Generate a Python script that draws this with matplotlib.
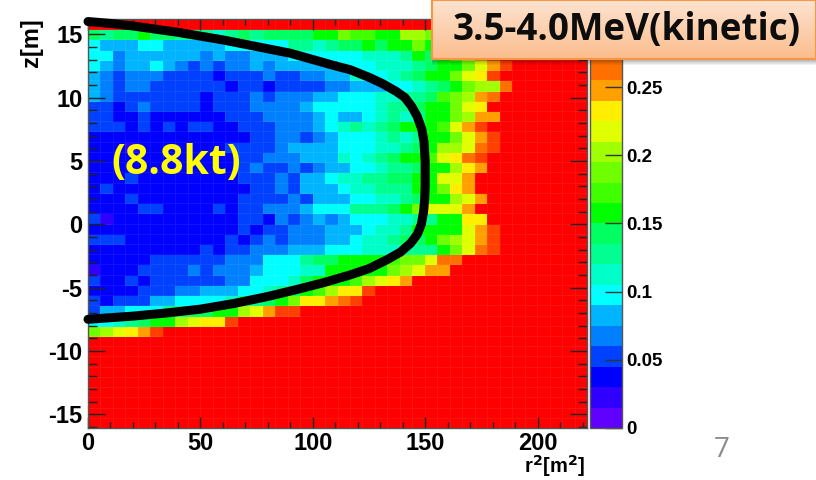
# fiducial volume map, r^2 vs z, with the 8.8kt curve on top
import numpy as np
import matplotlib
matplotlib.use("Agg")
import matplotlib.pyplot as plt
from matplotlib.colors import ListedColormap, BoundaryNorm

W, H = 816, 480

# palette levels, bottom to top of the colour bar
palette = ["#6000ff", "#3000ff", "#0000ff", "#0040ff", "#0080ff",
           "#00b4ff", "#00ffff", "#00ffc8", "#00ff90", "#00ff60",
           "#00ff00", "#40ff00", "#70ff00", "#a0ff00", "#e0ff00",
           "#ffee00", "#ffa000", "#ff7000", "#ff4000", "#ff0000"]

# one char per bin (base 20 palette level), top row first, missing bins at the right are red
rows = [
    "",
    "9899a9988878989999aacbbaaddcdefgi",
    "6555665555566666887899a9aacadeghi",
    "66455555545445556666667778a9acegi",
    "6545565434344545555566677789aacegi",
    "543444333323334334455766789aacefi",
    "54344333333233233334455566789acddh",
    "5433333332333434445566677889bcdgh",
    "332343333233344445666667889aacef",
    "332232222223334444565567878aacdgg",
    "3332323233223334445678789aaabegi",
    "222222222222233443456667878aacegi",
    "222122222223333455556667789addehi",
    "2222222222223344455576789aabefhi",
    "222222222222343343455667889aadfg",
    "22232222222233343556778899aaeeg",
    "23222222222223343555677888aacfg",
    "222322222222333343555667789aadeg",
    "2222332222323344456668889aceeeg",
    "3122222222223324345456667788aaff",
    "22222222222232334445556778aaaaegi",
    "333222222223234344455677899acdegi",
    "2222222223233444555666777888acehi",
    "22222333333444666899aaaabccehh",
    "1222333343444566677aaaaacdegg",
    "3223233333344666 79aaabdefg".replace(" ", ""),
    "22223334455566789abdffi",
    "323335566667889acffghi",
    "3556668899aadegii",
    "66789aadeffi",
    "cdefgi",
    "", "", "", "", "", "", "", "", "",
]

# curve
curve_r2 = [0, 10, 20, 30, 40, 50, 60, 70, 80, 90, 100, 110, 116.6, 125, 131, 137, 141, 144, 146.5, 148.5, 149.5, 150,
            150, 149.8, 149.3, 148.3, 146.5, 143.5, 139, 133, 125, 116.6, 105, 94, 80, 65, 50, 35, 20, 0]
curve_z = [16, 15.85, 15.65, 15.4, 15.15, 14.85, 14.55, 14.2, 13.85, 13.5, 13, 12.5, 12.2, 11.6, 11.1, 10.5, 10, 9.3, 8.5, 7.5, 6.5, 5,
           3, 2, 1, 0, -0.8, -1.5, -2.2, -2.8, -3.5, -4, -4.6, -5.1, -5.7, -6.25, -6.7, -7, -7.25, -7.5]

xticks = [0, 50, 100, 150, 200]
yticks = [-15, -10, -5, 0, 5, 10, 15]
cticks = [0, 0.05, 0.1, 0.15, 0.2, 0.25]
clabels = ["0", "0.05", "0.1", "0.15", "0.2", "0.25"]


def rect(x0, y0, x1, y1):
    # pixel box (y from the top) to figure fractions
    return [x0 / W, 1 - y1 / H, (x1 - x0) / W, (y1 - y0) / H]


levels = np.array([[int(ch, 20) for ch in r.ljust(40, "j")[:40]] for r in rows])
values = (levels[::-1] + 0.5) * 0.015

cmap = ListedColormap(palette)
norm = BoundaryNorm(np.arange(21) * 0.015, 20)

plt.rcParams["font.family"] = ["Liberation Sans", "DejaVu Sans"]
plt.rcParams["axes.unicode_minus"] = False
fig = plt.figure(figsize=(W / 100, H / 100), dpi=100, facecolor="white")

ax = fig.add_axes(rect(88, 19, 587, 428))
xe = np.linspace(0, 222, 41)
ye = np.linspace(-16.08, 16.2, 41)
ax.pcolormesh(xe, ye, values, cmap=cmap, norm=norm, edgecolors=(1, 1, 1, 0.07), linewidth=0.6)
ax.plot(curve_r2, curve_z, color="black", lw=6.5, solid_capstyle="round", solid_joinstyle="round", clip_on=False, zorder=5)
ax.set_xlim(0, 222)
ax.set_ylim(-16.08, 16.2)
ax.set_xticks(xticks)
ax.set_yticks(yticks)
ax.set_xticks(np.arange(0, 221, 10), minor=True)
ax.set_yticks(np.arange(-16, 17, 1), minor=True)
ax.tick_params(axis="x", which="major", direction="in", top=True, length=8, width=1, color="#222222", pad=3)
ax.tick_params(axis="x", which="minor", direction="in", top=True, length=4, width=1, color="#222222")
ax.tick_params(axis="y", which="major", direction="in", right=True, length=12.5, width=1, color="#222222", pad=4)
ax.tick_params(axis="y", which="minor", direction="in", right=True, length=6.5, width=1, color="#222222")
for lab in ax.get_xticklabels() + ax.get_yticklabels():
    lab.set_fontsize(17)
    lab.set_fontweight("bold")
for s in ax.spines.values():
    s.set_color("#555555")
    s.set_linewidth(1)

# colour bar
cax = fig.add_axes(rect(590, 19, 622, 428))
cb = fig.colorbar(plt.cm.ScalarMappable(norm=norm, cmap=cmap), cax=cax, ticks=cticks, spacing="proportional")
cb.minorticks_off()
cb.set_ticklabels(clabels)
cax.tick_params(axis="y", direction="in", length=12, width=1, color="#333333", pad=3, labelsize=13.5)
for lab in cax.get_yticklabels():
    lab.set_fontweight("bold")
cb.outline.set_edgecolor("#555555")
cb.outline.set_linewidth(1)

# axis titles
fig.text(555 / W, 1 - 466.5 / H, "r$\\mathbf{^2}$[m$\\mathbf{^2}$]", fontsize=14.5, fontweight="bold", ha="center", va="center",
         math_fontfamily="dejavusans")
fig.text(32 / W, 1 - 43 / H, "z[m]", fontsize=17, fontweight="bold", rotation=90, ha="center", va="center")

fig.text(176 / W, 1 - 163 / H, "(8.8kt)", fontsize=29.5, fontweight="bold", color="#ffff00", ha="center", va="center",
         family="Open Sans", zorder=10)
fig.text(722 / W, 1 - 450 / H, "7", fontsize=20, color="#8c8c8c", ha="center", va="center", family="Open Sans")

# shadow under the title box
sh = fig.add_axes(rect(432, 59, 816, 66), zorder=8)
shade = np.zeros((7, 1, 4))
shade[:, 0, 3] = np.linspace(0.32, 0.0, 7)
sh.imshow(shade, aspect="auto")
sh.axis("off")

# title box with its gradient
bx = fig.add_axes(rect(432, 0, 816, 59), zorder=9)
top = np.array(matplotlib.colors.to_rgb("#fde3d0"))
bot = np.array(matplotlib.colors.to_rgb("#fbbd8d"))
grad = np.linspace(top, bot, 59).reshape(59, 1, 3)
bx.imshow(grad, aspect="auto", extent=(0, 1, 0, 1))
bx.set_xticks([])
bx.set_yticks([])
for s in bx.spines.values():
    s.set_color("#f79646")
    s.set_linewidth(1.5)
bx.text(0.508, 0.50, "3.5-4.0MeV(kinetic)", transform=bx.transAxes, fontsize=26.5, fontweight="bold",
        color="#0d0d0d", ha="center", va="center", family="Open Sans")

fig.savefig("out.png", dpi=100)
